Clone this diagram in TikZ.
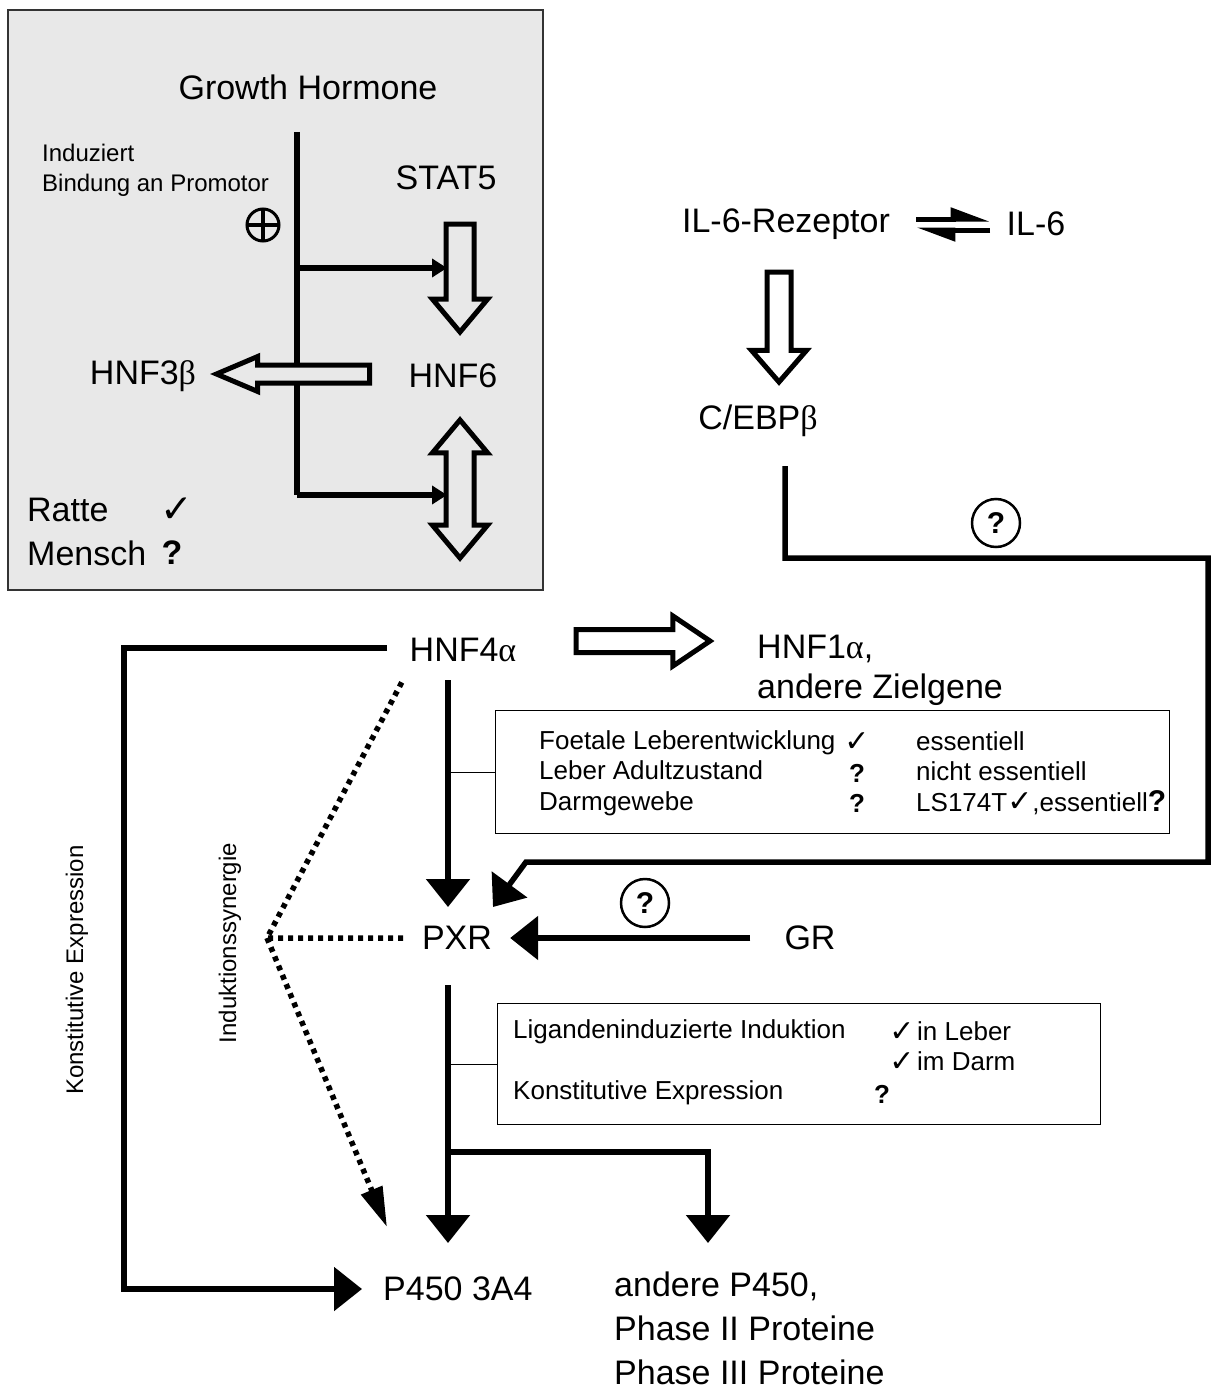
\documentclass[tikz,border=0pt]{standalone}
\usepackage{fontspec}
\setmainfont{Liberation Sans}
\newfontfamily\grk{Liberation Serif}
\newfontfamily\dejavu[Scale=1.15]{DejaVu Sans}
\usetikzlibrary{arrows.meta,positioning,shapes.arrows}
\definecolor{boxgray}{gray}{0.91}
\newcommand{\chk}{{\dejavu\bfseries ✓}}
\newcommand{\qm}{\textbf{?}}

\begin{document}
\begin{tikzpicture}[x=1pt, y=-1pt,
    txt/.style={inner sep=0, font=\fontsize{34}{40}\selectfont},
    note/.style={inner sep=0, align=left, font=\fontsize{24}{30}\selectfont},
    cell/.style={inner sep=0, align=left, font=\fontsize{26}{30.5}\selectfont},
    infobox/.style={draw, line width=1.3, inner sep=0, anchor=north west},
    wire/.style={line width=5.5},
    tie/.style={line width=1.3},
    arrow/.style={wire, -{Triangle[length=28pt, width=43pt]}},
    smallarrow/.style={wire, -{Triangle[length=15pt, width=18pt]}},
    dots/.style={line width=5.5, dash pattern=on 5pt off 5pt},
    hollow/.style={draw, line width=5, single arrow, inner xsep=0, anchor=tail, fill=white},
    qmark/.style={circle, draw, line width=2.5, minimum size=48, inner sep=0,
      font=\bfseries\fontsize{30}{30}\selectfont}
  ]
  \useasboundingbox (0,0) rectangle (1210,1391);

  % growth hormone panel
  \node[draw=black!80, line width=2, fill=boxgray, inner sep=0, anchor=north west,
    minimum width=535, minimum height=580] (ghbox) at (7,9) {};
  \node[txt] (gh) at (308,87) {Growth Hormone};
  \node[note, anchor=west] (induz) at (42,170) {Induziert\\Bindung an Promotor};
  \node[circle, draw, line width=3, minimum size=32, inner sep=0,
    path picture={\draw[line width=4] (path picture bounding box.north) -- (path picture bounding box.south)
      (path picture bounding box.west) -- (path picture bounding box.east);}] (plus) at (263,225) {};
  \node[txt] (stat5) at (446,178) {STAT5};
  \node[txt] (hnf6) at (453,376) {HNF6};
  \node[txt] (hnf3b) at (143,376) {HNF3{\grk β}};
  \node[txt, anchor=west] (ratte) at (27,510) {Ratte};
  \node[txt] (ratteok) at (177,510) {\chk};
  \node[txt, anchor=west] (mensch) at (27,553) {Mensch};
  \node[txt] (menschq) at (172,553) {\qm};

  \coordinate (ghtop) at (297,132);
  \coordinate (ghbot) at (297,495);
  \coordinate (gh1) at (297,268);
  \coordinate (stat5in) at (447,268);
  \coordinate (hnf6in) at (447,495);
  \draw[wire] (ghtop) -- (ghbot);
  \draw[smallarrow] (gh1) -- (stat5in);
  \draw[smallarrow] (ghbot) -- (hnf6in);
  \node[hollow, fill=boxgray, rotate=-90, minimum height=108, inner ysep=11.5,
    single arrow head extend=13.5, single arrow tip angle=80] (stat5arr) at (460,221.5) {};
  \node[draw, line width=5, fill=boxgray, double arrow, rotate=90, inner xsep=0, inner ysep=11.5,
    double arrow head extend=13.5, double arrow tip angle=80, minimum height=138] (hnf6arr) at (460,489) {};
  \node[hollow, fill=boxgray, rotate=180, minimum height=153, inner ysep=6.5,
    single arrow head extend=8.5, single arrow tip angle=46] (hnf3arr) at (372,374) {};

  % IL-6 pathway
  \node[txt] (il6r) at (786,224) {IL-6-Rezeptor};
  \node[txt] (il6) at (1036,224) {IL-6};
  \coordinate (eqa) at (916,219);
  \coordinate (eqb) at (990,219);
  \coordinate (eqc) at (990,230);
  \coordinate (eqd) at (916,230);
  \draw[line width=5, -{Triangle[harpoon, length=32pt, width=22pt]}] (eqa) -- (eqb);
  \draw[line width=5, -{Triangle[harpoon, length=32pt, width=22pt]}] (eqc) -- (eqd);
  \node[hollow, rotate=-90, minimum height=110, inner ysep=9.5,
    single arrow head extend=15.5, single arrow tip angle=82] (ilarr) at (779,269.5) {};
  \node[txt] (cebp) at (758,421) {C/EBP{\grk β}};
  \node[qmark] (q1) at (996,523) {?};
  \coordinate (cebpout) at (785,466);
  \coordinate (loopa) at (1208,558);
  \coordinate (loopb) at (526,862);
  \coordinate (pxrne) at (493,907);
  \draw[arrow] (cebpout) |- (loopa) |- (loopb) -- (pxrne);

  % HNF4alpha
  \node[txt] (hnf4) at (463,650) {HNF4{\grk α}};
  \node[hollow, minimum height=134, inner ysep=9,
    single arrow head extend=13.5, single arrow tip angle=68] (hnf4arr) at (573.5,641) {};
  \node[txt, anchor=west, align=left] (hnf1) at (757,670) {HNF1{\grk α},\\andere Zielgene};

  \node[infobox, minimum width=674, minimum height=123] (box1) at (495,710) {};
  \node[cell, anchor=west] (b1rows) at (539,773) {Foetale Leberentwicklung\\Leber Adultzustand\\Darmgewebe};
  \node[cell, align=center] (b1marks) at (857,773) {\chk\\\qm\\\qm};
  \node[cell, anchor=west] (b1vals) at (916,773)
    {essentiell\\nicht essentiell\\LS174T\chk,essentiell{\bfseries\fontsize{30}{30}\selectfont ?}};

  % PXR
  \node[txt] (pxr) at (457,938) {PXR};
  \node[txt] (gr) at (810,938) {GR};
  \node[qmark] (q2) at (645,903) {?};
  \coordinate (hnf4out) at (448,680);
  \coordinate (pxrin) at (448,907);
  \draw[arrow] (hnf4out) -- (pxrin);
  \draw[tie] (box1.west -| hnf4out) -- (box1.west);
  \draw[arrow] ([xshift=-34pt]gr.west) -- ([xshift=18pt]pxr.east);

  \coordinate (syn) at (267,938);
  \coordinate (hnf4sw) at (403,680);
  \coordinate (pxrw) at (403,938);
  \coordinate (p450nw) at (387,1227);
  \draw[dots] (pxrw) -- (syn) -- (hnf4sw);
  \draw[dots, -{Triangle[length=40pt, width=22pt]}] (syn) -- (p450nw);
  \node[note, rotate=90] (synlabel) at (230,943) {Induktionssynergie};

  \coordinate (hnf4w) at (387,648);
  \coordinate (konst) at (124,970);
  \coordinate (p450w) at (362,1289);
  \draw[arrow] (hnf4w) -| (konst) |- (p450w);
  \node[note, rotate=90] (konlabel) at (77,970) {Konstitutive Expression};

  \node[infobox, minimum width=603, minimum height=121] (box2) at (497,1003) {};
  \node[cell, anchor=west] (b2rows) at (513,1062) {Ligandeninduzierte Induktion\\\strut\\Konstitutive Expression};
  \node[cell, align=center] (b2marks) at (902,1047) {\chk\\\chk};
  \node[txt, font=\bfseries\fontsize{26}{30}\selectfont] (b2q) at (882,1094) {?};
  \node[cell, anchor=west] (b2vals) at (917,1046) {in Leber\\im Darm};

  \coordinate (pxrout) at (448,985);
  \coordinate (split) at (448,1152);
  \coordinate (p450n) at (448,1243);
  \coordinate (othern) at (708,1243);
  \draw[arrow] (pxrout) -- (p450n);
  \draw[arrow] (split) -| (othern);
  \draw[tie] (box2.west -| pxrout) -- (box2.west);

  % targets
  \node[txt, anchor=west] (p450) at (383,1289) {P450 3A4};
  \node[txt, anchor=west, align=left, font=\fontsize{34}{44}\selectfont] (others) at (614,1328)
    {andere P450,\\Phase II Proteine\\Phase III Proteine};
\end{tikzpicture}
\end{document}
